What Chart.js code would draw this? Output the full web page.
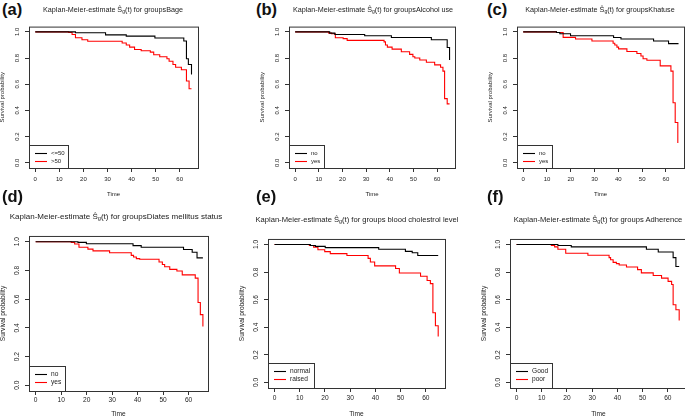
<!DOCTYPE html>
<html><head><meta charset="utf-8">
<script src="https://cdn.jsdelivr.net/npm/chart.js@4.4.1/dist/chart.umd.min.js"></script>
<style>
html,body{margin:0;padding:0;background:#fff;overflow:hidden;width:685px;height:417px;}
body{position:relative;font-family:"Liberation Sans",Arial,sans-serif;}
canvas{position:absolute;}
.ttl{position:absolute;color:#1a1a1a;white-space:nowrap;transform:translateX(-50%);will-change:transform;}
.ttl sub{font-size:70%;vertical-align:-0.25em;line-height:0;}
.lab{position:absolute;font-weight:bold;font-size:16.5px;line-height:16.5px;color:#111;}
</style></head><body>
<script>
const FONT = '"Liberation Sans", Arial, sans-serif';
const xTicks = [0, 10, 20, 30, 40, 50, 60];
const yTicks = [0, 0.2, 0.4, 0.6, 0.8, 1.0];

// (a) Bage
const aTimeLE50 = [0, 16.7, 29.2, 37.8, 49.7, 61.7, 62.8, 63.6, 64.9];
const aSurvLE50 = [1, 0.993, 0.977, 0.967, 0.953, 0.93, 0.795, 0.75, 0.675];
const aTimeGT50 = [0, 13.9, 15.3, 16.7, 19.4, 21.8, 36.1, 37.8, 39.2, 41.25, 44, 47.8, 49.2, 51.7, 54.7, 55.6, 57.2, 58.3, 60.7, 62.8, 63.9, 64.9];
const aSurvGT50 = [1, 0.995, 0.98, 0.955, 0.94, 0.928, 0.915, 0.90, 0.883, 0.865, 0.855, 0.845, 0.825, 0.81, 0.795, 0.775, 0.75, 0.73, 0.71, 0.625, 0.565, 0.565];
// (b) Alcohol use
const bTimeNo = [0, 14.6, 16.8, 29.4, 40.7, 57.6, 64.3, 65.3];
const bSurvNo = [1, 0.99, 0.98, 0.97, 0.957, 0.94, 0.88, 0.785];
const bTimeYes = [0, 14.2, 15.4, 17, 20.3, 22, 37.6, 38.2, 39, 41, 44.9, 48.4, 49.8, 50.6, 52.7, 55.5, 59, 61.5, 62.5, 63.2, 64.3, 65.3];
const bSurvYes = [1, 0.99, 0.985, 0.955, 0.948, 0.935, 0.923, 0.90, 0.883, 0.868, 0.848, 0.828, 0.81, 0.80, 0.785, 0.768, 0.748, 0.73, 0.70, 0.49, 0.45, 0.45];
// (c) Khat use
const cTimeNo = [0, 14, 15.4, 19.9, 38, 41.1, 54.8, 61.1, 65.3];
const cSurvNo = [1, 0.995, 0.985, 0.97, 0.957, 0.945, 0.93, 0.91, 0.91];
const cTimeYes = [0, 14, 16.8, 22, 28.9, 37.8, 38.5, 39.4, 40.1, 43.6, 47.8, 49.5, 50.4, 52, 57.6, 62.1, 63, 63.9, 65];
const cSurvYes = [1, 0.995, 0.958, 0.945, 0.93, 0.913, 0.90, 0.883, 0.87, 0.85, 0.835, 0.815, 0.795, 0.783, 0.74, 0.70, 0.458, 0.308, 0.15];
// (d) Diabetes mellitus status
const dTimeNo = [0, 16.6, 19.9, 38.2, 41.4, 58, 61.4, 63.3, 65.6];
const dSurvNo = [1, 0.995, 0.986, 0.973, 0.961, 0.946, 0.927, 0.887, 0.887];
const dTimeYes = [0, 14, 15.3, 17, 20.5, 22.5, 29, 37.5, 38.4, 39.5, 40.8, 48.4, 49.7, 50.6, 52.6, 55.4, 57.5, 62.6, 63.7, 64.6, 65.6];
const dSurvYes = [1, 0.995, 0.984, 0.961, 0.948, 0.936, 0.923, 0.905, 0.893, 0.882, 0.878, 0.859, 0.841, 0.825, 0.807, 0.796, 0.769, 0.746, 0.576, 0.492, 0.41];
// (e) blood cholesterol level
const eTimeNormal = [0, 14.2, 16.2, 20.1, 41.3, 51.9, 54.6, 56.8, 64.9];
const eSurvNormal = [1, 0.993, 0.986, 0.977, 0.965, 0.95, 0.94, 0.92, 0.92];
const eTimeRaised = [0, 13.8, 15.5, 17.2, 19.9, 22.1, 28.7, 37.1, 38, 39.7, 48, 49.5, 57.9, 60.5, 61.8, 62.8, 63.8, 64.9];
const eSurvRaised = [1, 0.993, 0.981, 0.962, 0.948, 0.934, 0.92, 0.899, 0.873, 0.845, 0.826, 0.793, 0.77, 0.739, 0.716, 0.505, 0.411, 0.333];
// (f) Adherence
const fTimeGood = [0, 16.4, 21.7, 51.5, 56.2, 62.1, 63.2, 64.5];
const fSurvGood = [1, 0.993, 0.983, 0.965, 0.946, 0.905, 0.84, 0.84];
const fTimePoor = [0, 13.8, 15.1, 16.4, 19.5, 28.3, 36.7, 37.3, 38.3, 39.6, 40.7, 43.6, 48, 49.5, 54.2, 57.5, 60.1, 61.5, 62.1, 63.2, 64.5];
const fSurvPoor = [1, 0.993, 0.983, 0.965, 0.936, 0.922, 0.905, 0.889, 0.87, 0.861, 0.851, 0.837, 0.818, 0.794, 0.775, 0.756, 0.733, 0.71, 0.563, 0.527, 0.45];

const panelLetters = ['(a)', '(b)', '(c)', '(d)', '(e)', '(f)'];
const titleGroups = ['groupsBage', 'groupsAlcohol use', 'groupsKhatuse', 'groupsDiates mellitus status', 'groups blood cholestrol level', 'groups Adherence'];
const legendNames = [['<=50', '>50'], ['no', 'yes'], ['no', 'yes'], ['no', 'yes'], ['normal', 'raised'], ['Good', 'poor']];
const seriesTimes = [[aTimeLE50, aTimeGT50], [bTimeNo, bTimeYes], [cTimeNo, cTimeYes], [dTimeNo, dTimeYes], [eTimeNormal, eTimeRaised], [fTimeGood, fTimePoor]];
const seriesSurv = [[aSurvLE50, aSurvGT50], [bSurvNo, bSurvYes], [cSurvNo, cSurvYes], [dSurvNo, dSurvYes], [eSurvNormal, eSurvRaised], [fSurvGood, fSurvPoor]];

// layout (plot boxes in page pixels: left, top, right, bottom)
const layoutBoxes = [[29, 23, 198, 168], [289, 23, 455, 168], [517, 23, 684, 168], [29, 232, 208, 391], [268, 235, 445, 388], [510, 235, 687, 388]];
const tickFont = [6, 6, 6, 6.6, 6.6, 6.6];
const tickPad = [4, 4, 4, 1, 2, 2];
const xAxisH = [30, 30, 30, 27, 30, 30];
const titleFont = [7.2, 7.2, 7.2, 8, 7.6, 7.6];
const titleCenter = [[113, 6], [373, 6], [600, 6], [116, 213], [357, 216], [598, 216]];
const letterPos = [[2, 1], [256, 1], [487, 1], [2, 188], [256, 188], [487, 188]];
const legendH = [23, 23, 23, 25, 25, 25];

const boxPlugin = {
  id: 'kmBox',
  afterDraw(chart) {
    const {ctx, chartArea: a} = chart;
    ctx.save();
    ctx.strokeStyle = '#333';
    ctx.lineWidth = 1;
    ctx.strokeRect(a.left + 0.5, a.top + 0.5, a.right - a.left, a.bottom - a.top);
    ctx.restore();
  }
};
const legendPlugin = {
  id: 'kmLegend',
  afterDraw(chart, args, opts) {
    const {ctx, chartArea: a} = chart;
    const ds = chart.data.datasets;
    ctx.save();
    ctx.font = opts.size + 'px ' + FONT;
    const tw = Math.max(...ds.map(d => ctx.measureText(d.label).width));
    const w = Math.round(22 + tw + 3.5), h = opts.h;
    const x0 = a.left, y0 = a.bottom - h;
    ctx.strokeStyle = '#333';
    ctx.lineWidth = 1;
    ctx.strokeRect(x0 + 0.5, y0 + 0.5, w, h);
    ds.forEach((d, k) => {
      const y = Math.round(y0 + 8 + k * 7.5) + 0.5;
      ctx.strokeStyle = d.borderColor;
      ctx.lineWidth = 1.1;
      ctx.beginPath(); ctx.moveTo(x0 + 6, y); ctx.lineTo(x0 + 18, y); ctx.stroke();
      ctx.fillStyle = '#222';
      ctx.textBaseline = 'middle';
      ctx.fillText(d.label, x0 + 22, y);
    });
    ctx.restore();
  }
};

const YW = 30, PT = 3, PR = 3;
layoutBoxes.forEach((box, i) => {
  const [l, t, r, b] = box;
  const fs = tickFont[i];
  const XH = xAxisH[i];
  const tt = document.createElement('div');
  tt.className = 'ttl';
  tt.style.fontSize = titleFont[i] + 'px';
  tt.style.lineHeight = titleFont[i] + 'px';
  tt.style.left = titleCenter[i][0] + 'px';
  tt.style.top = titleCenter[i][1] + 'px';
  tt.innerHTML = 'Kaplan-Meier-estimate \u015C<sub>g</sub>(t) for ' + titleGroups[i];
  document.body.appendChild(tt);
  const lb = document.createElement('div');
  lb.className = 'lab';
  lb.style.left = letterPos[i][0] + 'px';
  lb.style.top = letterPos[i][1] + 'px';
  lb.textContent = panelLetters[i];
  document.body.appendChild(lb);

  const cv = document.createElement('canvas');
  const w = r - l + YW + PR, h = b - t + PT + XH;
  cv.width = w; cv.height = h;
  cv.style.left = (l - YW) + 'px'; cv.style.top = (t - PT) + 'px';
  cv.style.width = w + 'px'; cv.style.height = h + 'px';
  document.body.appendChild(cv);

  new Chart(cv, {
    type: 'line',
    data: {
      datasets: legendNames[i].map((n, k) => ({
        label: n,
        data: seriesTimes[i][k].map((x, j) => ({x: x, y: seriesSurv[i][k][j]})),
        borderColor: k ? '#ff0000' : '#000000',
        borderWidth: 1.1,
        pointRadius: 0,
        stepped: true,
        fill: false
      }))
    },
    options: {
      responsive: false, animation: false, devicePixelRatio: 1,
      layout: {padding: {left: 0, top: PT, right: PR, bottom: 0}},
      plugins: {legend: {display: false}, tooltip: {enabled: false}, title: {display: false},
        kmLegend: {size: fs, h: legendH[i]}},
      scales: {
        x: {
          type: 'linear', min: -2.6, max: 67.6,
          afterBuildTicks: s => { s.ticks = xTicks.map(v => ({value: v})); },
          afterFit: s => { s.height = XH; },
          grid: {drawOnChartArea: false, drawTicks: true, tickLength: 4, tickColor: '#333'},
          border: {display: false},
          ticks: {autoSkip: false, minRotation: 0, maxRotation: 0, padding: tickPad[i], color: '#222',
            font: {size: fs, family: FONT}, callback: v => String(v)},
          title: {display: true, text: 'Time', color: '#222', font: {size: fs, family: FONT}, padding: {top: 0, bottom: 0}}
        },
        y: {
          type: 'linear', min: -0.04, max: 1.04,
          afterBuildTicks: s => { s.ticks = yTicks.map(v => ({value: v})); },
          afterFit: s => { s.width = YW; },
          grid: {drawOnChartArea: false, drawTicks: true, tickLength: 4, tickColor: '#333'},
          border: {display: false},
          ticks: {autoSkip: false, minRotation: 90, maxRotation: 90, crossAlign: 'center', padding: 3, color: '#222',
            font: {size: fs, family: FONT}, callback: v => Number(v).toFixed(1)},
          title: {display: true, text: 'Survival probability', color: '#222', font: {size: fs, family: FONT}, padding: {top: 0, bottom: 0}}
        }
      }
    },
    plugins: [boxPlugin, legendPlugin]
  });
});
</script>
</body></html>
